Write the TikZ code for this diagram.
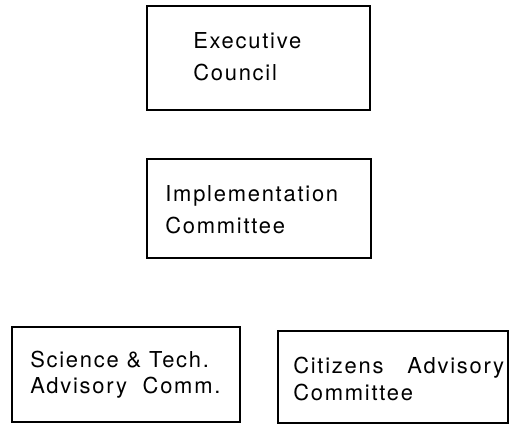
\documentclass[tikz,border=0pt]{standalone}
\usepackage{fontspec}
\setmainfont[LetterSpace=8]{TeX Gyre Heros}
\usetikzlibrary{fit}

\tikzset{
  box/.style={draw, line width=1.3pt, inner sep=0pt},
  lbl/.style={anchor=west, align=left, inner sep=0pt, font=\fontsize{15.6}{#1}\selectfont}
}

\begin{document}
\begin{tikzpicture}[x=0.025cm, y=-0.025cm]
    \useasboundingbox (0,0) rectangle (512,425);
    % boxes, corners in pixels (y downwards)
    \node[box, fit={(147,6) (370,110)}] (exec) {};
    \node[box, fit={(147,159) (371,258)}] (impl) {};
    \node[box, fit={(12,327) (240,422)}] (sci) {};
    \node[box, fit={(278,331) (508,423)}] (cit) {};
    % names
    \node[lbl=22.5] (execText) at (193,57) {Executive\\Council};
    \node[lbl=22.5] (implText) at (165,210) {Implementation\\Committee};
    \node[lbl=18.5] (sciText) at (30,375) {Science \& Tech.\\Advisory\ \ Comm.};
    \node[lbl=19.5] (citText) at (293,379) {Citizens\hspace{17pt}Advisory\\Committee};
  \end{tikzpicture}
\end{document}
